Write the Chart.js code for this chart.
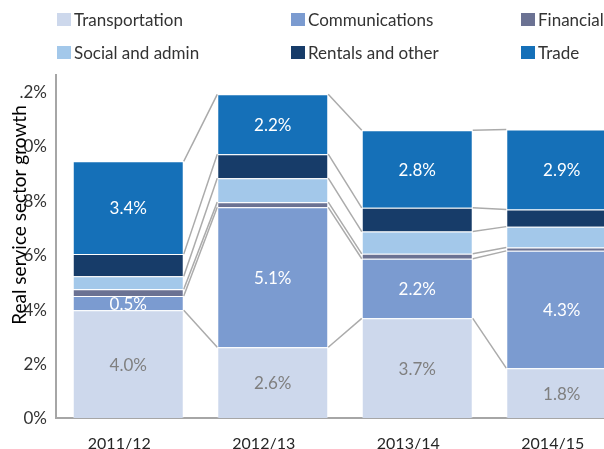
<!DOCTYPE html>
<html>
<head>
<meta charset="utf-8">
<script src="https://cdn.jsdelivr.net/npm/chart.js@4"></script>
<style>
  html, body { margin: 0; padding: 0; background: #fff; overflow: hidden; width: 604px; height: 449px; }
  #wrap { position: absolute; left: 0; top: 0; width: 640px; height: 449px; }
  #legend { position: absolute; left: 57px; top: 10px; display: grid;
    grid-template-columns: 234px 230px auto; grid-auto-rows: 33px;
    font-family: Lato, "Open Sans", sans-serif; font-size: 17px; color: #333; }
  .item { display: flex; align-items: center; height: 19px; white-space: nowrap; }
  .box { width: 14px; height: 13px; margin-right: 3px; flex: none; }
</style>
</head>
<body>
<div id="wrap"><canvas id="c" width="640" height="449"></canvas></div>
<div id="legend"></div>
<script>
const categories = ['2011/12', '2012/13', '2013/14', '2014/15'];
const seriesNames = ['Transportation', 'Communications', 'Financial', 'Social and admin', 'Rentals and other', 'Trade'];
const transportation = [3.96, 2.60, 3.66, 1.83];
const communications = [0.52, 5.14, 2.19, 4.31];
const financial = [0.25, 0.19, 0.18, 0.12];
const socialAdmin = [0.48, 0.88, 0.82, 0.77];
const rentalsOther = [0.81, 0.88, 0.87, 0.63];
const trade = [3.41, 2.20, 2.849, 2.94];
const labelledSeries = ['Transportation', 'Communications', 'Trade'];
const yTickValues = [0, 2, 4, 6, 8, 10, 12];
const yTickLabels = ['0%', '2%', '4%', '6%', '8%', '0%', '.2%'];
const axisTitle = 'Real service sector growth';

const seriesValues = [transportation, communications, financial, socialAdmin, rentalsOther, trade];
const colors = ['#CDD8EC', '#7B9BD0', '#6B7293', '#A3C8EA', '#173C69', '#1570B8'];
const labelColors = ['#7F7F7F', '#FFFFFF', '#FFFFFF', '#FFFFFF', '#FFFFFF', '#FFFFFF'];
const FONT = 'Lato, "Open Sans", sans-serif';

// HTML legend
const legendEl = document.getElementById('legend');
seriesNames.forEach((name, i) => {
  const it = document.createElement('div');
  it.className = 'item';
  const b = document.createElement('span');
  b.className = 'box';
  b.style.background = colors[i];
  const t = document.createElement('span');
  t.textContent = name;
  it.appendChild(b); it.appendChild(t);
  legendEl.appendChild(it);
});

const seriesLines = {
  id: 'seriesLines',
  beforeDatasetsDraw(chart) {
    const ctx = chart.ctx;
    ctx.save();
    ctx.strokeStyle = '#ABABAB';
    ctx.lineWidth = 1.5;
    chart.data.datasets.forEach((ds, di) => {
      const els = chart.getDatasetMeta(di).data;
      for (let i = 0; i < els.length - 1; i++) {
        const a = els[i].getProps(['x', 'y', 'width'], true);
        const b = els[i + 1].getProps(['x', 'y', 'width'], true);
        ctx.beginPath();
        ctx.moveTo(a.x + a.width / 2, a.y);
        ctx.lineTo(b.x - b.width / 2, b.y);
        ctx.stroke();
      }
    });
    ctx.restore();
  }
};

const valueLabels = {
  id: 'valueLabels',
  afterDatasetsDraw(chart) {
    const ctx = chart.ctx;
    ctx.save();
    ctx.font = '17px ' + FONT;
    ctx.textAlign = 'center';
    ctx.textBaseline = 'middle';
    chart.data.datasets.forEach((ds, di) => {
      if (!labelledSeries.includes(ds.label)) return;
      chart.getDatasetMeta(di).data.forEach((el, i) => {
        const p = el.getProps(['x', 'y', 'base'], true);
        ctx.fillStyle = labelColors[di];
        ctx.fillText(ds.data[i].toFixed(1) + '%', p.x, (p.y + p.base) / 2 + 1);
      });
    });
    ctx.restore();
  }
};

const yTitle = {
  id: 'yTitle',
  afterDraw(chart) {
    const ctx = chart.ctx;
    ctx.save();
    ctx.translate(20, 215);
    ctx.rotate(-Math.PI / 2);
    ctx.font = '19px ' + FONT;
    ctx.fillStyle = '#000';
    ctx.textAlign = 'center';
    ctx.textBaseline = 'middle';
    ctx.fillText(axisTitle, 0, 0);
    ctx.restore();
  }
};

new Chart(document.getElementById('c'), {
  type: 'bar',
  data: {
    labels: categories,
    datasets: seriesNames.map((n, i) => ({
      label: n,
      data: seriesValues[i],
      backgroundColor: colors[i],
      borderColor: 'rgba(255,255,255,0.35)',
      borderWidth: 1,
      borderSkipped: 'start',
      categoryPercentage: 1,
      barPercentage: 0.768
    }))
  },
  options: {
    responsive: false,
    animation: false,
    devicePixelRatio: 1,
    layout: { padding: { top: 75, right: 6, left: 0, bottom: 0 } },
    plugins: { legend: { display: false }, tooltip: { enabled: false } },
    scales: {
      x: {
        stacked: true,
        grid: { display: false, drawTicks: false },
        border: { display: true, color: '#A6A6A6', width: 2 },
        ticks: { color: '#262626', font: { family: FONT, size: 16 }, padding: 16, maxRotation: 0, labelOffset: -9 },
        afterFit(s) { s.height = 31; }
      },
      y: {
        stacked: true,
        min: 0,
        max: 12.6,
        grid: { display: false, drawTicks: false },
        border: { display: true, color: '#A6A6A6', width: 2 },
        afterBuildTicks(s) { s.ticks = yTickValues.map(v => ({ value: v })); },
        ticks: {
          color: '#333333',
          font: { family: FONT, size: 17 },
          padding: 9,
          labelOffset: 1,
          callback(v) { const k = yTickValues.indexOf(v); return k >= 0 ? yTickLabels[k] : ''; }
        },
        afterFit(s) { s.width = 56; }
      }
    }
  },
  plugins: [seriesLines, valueLabels, yTitle]
});
</script>
</body>
</html>
